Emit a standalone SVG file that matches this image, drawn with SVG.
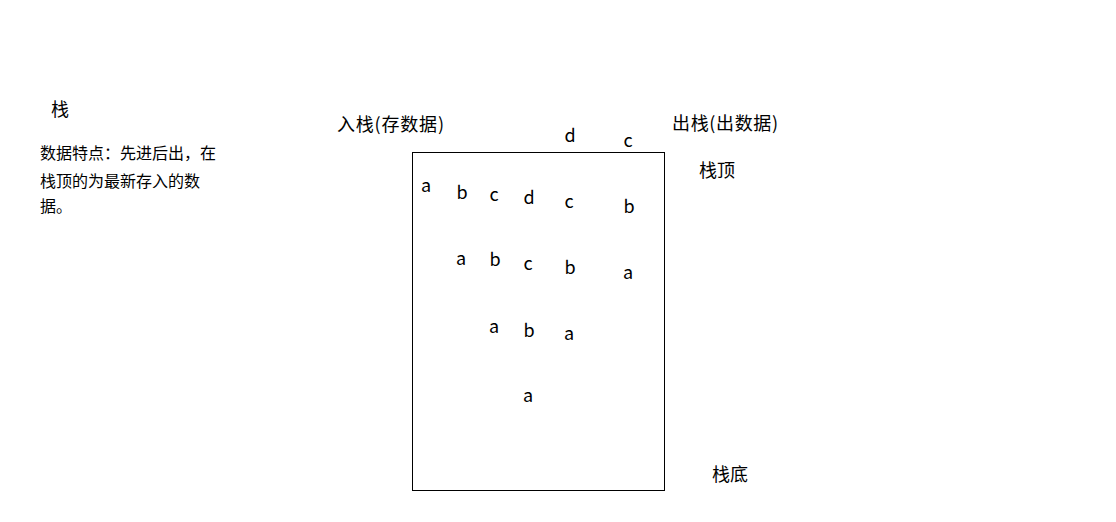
<svg xmlns="http://www.w3.org/2000/svg" width="1116" height="522" viewBox="0 0 1116 522">
<style>
.cjk{font-family:"Noto Sans CJK SC","Microsoft YaHei",sans-serif;fill:#000}
.t18{font-size:18px}
.t16{font-size:16px}
.l{font-family:"Noto Sans CJK SC","Open Sans",sans-serif;font-size:18px;fill:#000;text-anchor:middle}
</style>
<rect width="1116" height="522" fill="#fff"/>
<g id="title"><text class="cjk t18" x="51" y="116">栈</text></g>
<g id="desc">
<text class="cjk t16" x="40" y="159">数据特点：先进后出，在</text>
<text class="cjk t16" x="40" y="187">栈顶的为最新存入的数</text>
<text class="cjk t16" x="40" y="212">据。</text>
</g>
<g id="push-label"><text class="cjk t18" x="337" y="131" textLength="107" lengthAdjust="spacing">入栈(存数据)</text></g>
<g id="pop-label"><text class="cjk t18" x="672" y="130" textLength="106" lengthAdjust="spacing">出栈(出数据)</text></g>
<g id="top-label"><text class="cjk t18" x="699" y="177">栈顶</text></g>
<g id="bottom-label"><text class="cjk t18" x="712" y="481">栈底</text></g>
<g id="stack"><rect x="412.5" y="152.5" width="252" height="338" fill="none" stroke="#000" stroke-width="1"/></g>
<g id="letters">
<text class="l" x="426" y="192">a</text>
<text class="l" x="462" y="199">b</text>
<text class="l" x="494" y="201">c</text>
<text class="l" x="529" y="204">d</text>
<text class="l" x="569" y="208">c</text>
<text class="l" x="629" y="213">b</text>
<text class="l" x="570" y="142">d</text>
<text class="l" x="628" y="147">c</text>
<text class="l" x="461" y="265">a</text>
<text class="l" x="495" y="266">b</text>
<text class="l" x="528" y="270">c</text>
<text class="l" x="570" y="274">b</text>
<text class="l" x="628" y="279">a</text>
<text class="l" x="494" y="333">a</text>
<text class="l" x="529" y="337">b</text>
<text class="l" x="569" y="340">a</text>
<text class="l" x="528" y="402">a</text>
</g>
</svg>
